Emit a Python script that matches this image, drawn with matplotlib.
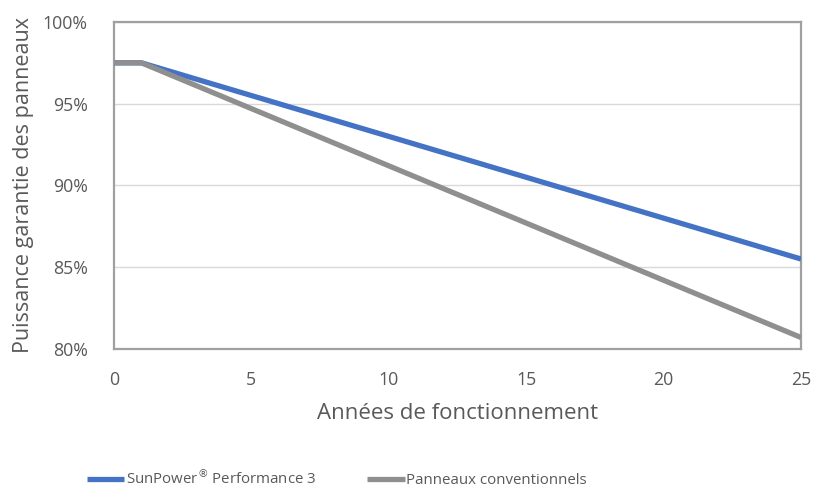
import matplotlib
matplotlib.use("Agg")
from matplotlib import pyplot as plt
from matplotlib.ticker import FuncFormatter

years = list(range(0, 26))
sunpower = [97.5, 97.5, 97.0, 96.5, 96.0, 95.5, 95.0, 94.5, 94.0, 93.5, 93.0, 92.5, 92.0,
            91.5, 91.0, 90.5, 90.0, 89.5, 89.0, 88.5, 88.0, 87.5, 87.0, 86.5, 86.0, 85.5]
conventional = [97.5, 97.5, 96.8, 96.1, 95.4, 94.7, 94.0, 93.3, 92.6, 91.9, 91.2, 90.5, 89.8,
                89.1, 88.4, 87.7, 87.0, 86.3, 85.6, 84.9, 84.2, 83.5, 82.8, 82.1, 81.4, 80.7]
xticks = [0, 5, 10, 15, 20, 25]
yticks = [80, 85, 90, 95, 100]

plt.rcParams['font.family'] = ['Open Sans', 'DejaVu Sans']
textcol = '#595959'

fig = plt.figure(figsize=(8.14, 4.88), dpi=100)
ax = fig.add_axes([0.140, 0.285, 0.844, 0.670])

ax.plot(years, sunpower, color='#4472c4', lw=3.8, solid_capstyle='butt',
        label=r'SunPower$^{®}$ Performance 3', zorder=3)
ax.plot(years, conventional, color='#8f8f8f', lw=3.8, solid_capstyle='butt',
        label='Panneaux conventionnels', zorder=3)

ax.set_xlim(0, 25)
ax.set_ylim(80, 100)
ax.set_xticks(xticks)
ax.set_yticks(yticks)
ax.yaxis.set_major_formatter(FuncFormatter(lambda v, p: f"{int(v)}%"))
ax.grid(axis='y', color='#d9d9d9', lw=1)
ax.set_axisbelow(True)
ax.tick_params(length=0, labelsize=12.8, labelcolor=textcol)
ax.tick_params(axis='y', pad=19)
ax.tick_params(axis='x', pad=16)
for s in ax.spines.values():
    s.set_color('#a0a0a0')
    s.set_linewidth(1.6)

ax.set_xlabel("Années de fonctionnement", fontsize=16, color=textcol, labelpad=10)
ax.set_ylabel("Puissance garantie des panneaux", fontsize=15.5, color=textcol, labelpad=6)

leg = fig.legend(loc='lower left', bbox_to_anchor=(0.090, -0.028), ncol=2, frameon=False,
                 fontsize=10.8, handlelength=2.5, handletextpad=0.1, columnspacing=3.4)
for t in leg.get_texts():
    t.set_color(textcol)

fig.savefig("out.png", dpi=100)
